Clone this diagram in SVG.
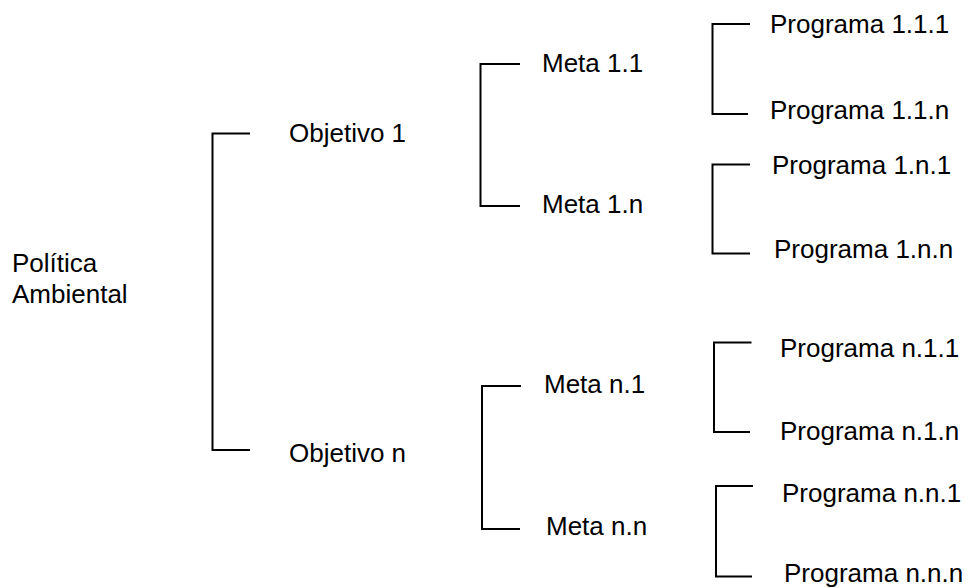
<svg xmlns="http://www.w3.org/2000/svg" width="968" height="588" viewBox="0 0 968 588">
<style>
text{font-family:"Liberation Sans",Arial,sans-serif;font-size:26px;fill:#000}
.c path{fill:none;stroke:#000;stroke-width:2}
</style>
<rect width="968" height="588" fill="#fff"/>
<g class="c" id="connectors">
<path d="M250,133.5 H212.5 V450 H250"/>
<path d="M520,64 H480.5 V206 H520"/>
<path d="M521,386 H482 V529 H520"/>
<path d="M750,24 H712.5 V114 H748"/>
<path d="M750,164.5 H712.5 V253.5 H750"/>
<path d="M751.5,342.5 H714 V432 H750"/>
<path d="M753,486 H716 V576.5 H752"/>
</g>
<g id="politica"><text x="12" y="272">Política</text><text x="12" y="303">Ambiental</text></g>
<g id="obj1"><text x="289" y="142">Objetivo 1</text></g>
<g id="objn"><text x="289" y="462">Objetivo n</text></g>
<g id="meta11"><text x="542" y="72">Meta 1.1</text></g>
<g id="meta1n"><text x="542" y="213">Meta 1.n</text></g>
<g id="metan1"><text x="544" y="393">Meta n.1</text></g>
<g id="metann"><text x="546" y="535">Meta n.n</text></g>
<g id="p111"><text x="770" y="33">Programa 1.1.1</text></g>
<g id="p11n"><text x="770" y="119">Programa 1.1.n</text></g>
<g id="p1n1"><text x="772" y="174">Programa 1.n.1</text></g>
<g id="p1nn"><text x="774" y="258">Programa 1.n.n</text></g>
<g id="pn11"><text x="780" y="356.5">Programa n.1.1</text></g>
<g id="pn1n"><text x="780" y="440">Programa n.1.n</text></g>
<g id="pnn1"><text x="782" y="501.5">Programa n.n.1</text></g>
<g id="pnnn"><text x="784" y="582">Programa n.n.n</text></g>
</svg>
